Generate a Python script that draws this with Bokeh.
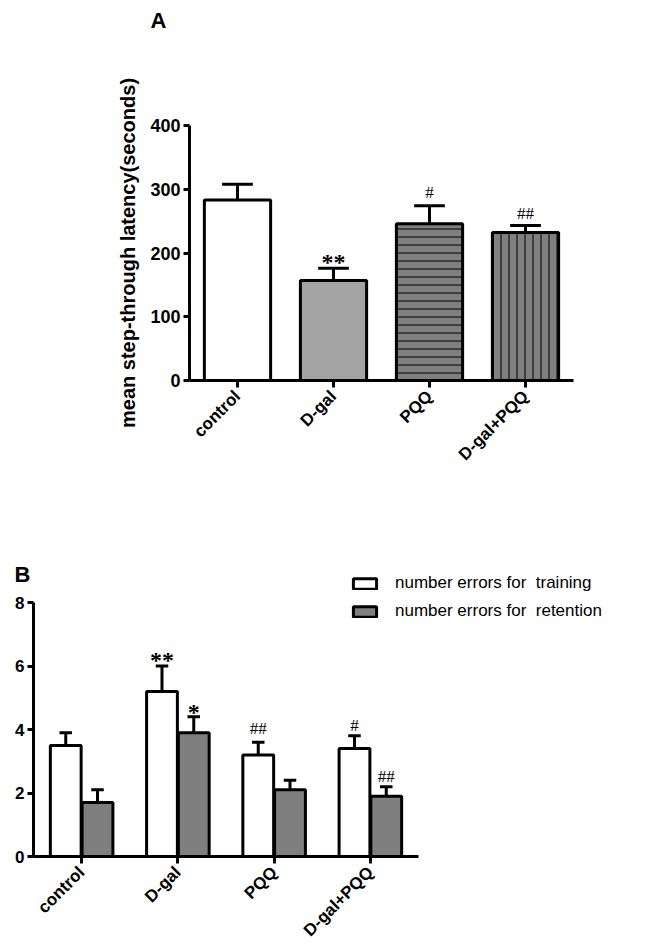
import numpy as np
from bokeh.plotting import figure
from bokeh.models import (ColumnDataSource, FixedTicker, Legend, LegendItem, Range1d, Title)
from bokeh.embed import file_html
from bokeh.resources import INLINE

# ---------------- data ----------------
groups = ["control", "D-gal", "PQQ", "D-gal+PQQ"]

# Panel A: mean step-through latency (seconds)
latency_mean = [283, 157, 246, 232]
latency_sem = [25, 19, 28, 11]
latency_marks = ["", "**", "#", "##"]
latency_ticks = [0, 100, 200, 300, 400]

# Panel B: number of errors
training_mean = [3.5, 5.2, 3.2, 3.4]
training_sem = [0.4, 0.8, 0.4, 0.4]
retention_mean = [1.7, 3.9, 2.1, 1.9]
retention_sem = [0.4, 0.5, 0.3, 0.3]
training_marks = ["", "**", "##", "#"]
retention_marks = ["", "*", "", "##"]
errors_ticks = [0, 2, 4, 6, 8]

legend_labels = ["number errors for  training", "number errors for  retention"]

# ---------------- styles ----------------
FONT = "Liberation Sans"
A_fill = ["white", "#a3a3a3", "#7f7f7f", "#7f7f7f"]
A_hatch = [" ", " ", "-", "|"]
B_train_fill = "white"
B_ret_fill = "#7f7f7f"
# pixel gap between error-bar top and mark baseline (style only)
A_mark_off = [0, -6, -13, -12]
T_mark_off = [0, -6, -14, -10]
R_mark_off = [0, -5, 0, -10]


def mark_font(m):
    if "*" in m:
        return "bold", "24px"
    return "normal", "17px"


def style_axes(p, tick_size):
    p.grid.visible = False
    p.outline_line_color = None
    p.background_fill_color = "white"
    for ax in (p.xaxis[0], p.yaxis[0]):
        ax.axis_line_width = 3
        ax.axis_line_color = "black"
        ax.major_tick_line_width = 3
        ax.major_tick_line_color = "black"
        ax.major_tick_in = 0
        ax.major_tick_out = 6
        ax.minor_tick_line_color = None
        ax.major_label_text_font = FONT
        ax.major_label_text_font_style = "bold"
        ax.major_label_text_color = "black"
        ax.major_label_text_font_size = tick_size
    p.yaxis.major_label_standoff = 3
    p.xaxis.major_label_standoff = 6
    p.xaxis.major_tick_out = 7
    p.xaxis.major_label_orientation = np.pi / 4
    p.xaxis.major_label_text_font_size = "17px"


def style_title(p, offset):
    p.title.text_font = FONT
    p.title.text_font_style = "bold"
    p.title.text_font_size = "22px"
    p.title.text_color = "black"
    p.title.align = "left"
    p.title.offset = offset


def add_marks(p, xs, ups, marks, offs):
    src = ColumnDataSource(dict(x=xs, up=ups, mark=marks, off=offs,
                                fs=[mark_font(m)[0] for m in marks],
                                fz=[mark_font(m)[1] for m in marks]))
    p.text(x="x", y="up", text="mark", y_offset="off", text_align="center",
           text_baseline="alphabetic", text_font_size="fz", text_font_style="fs",
           text_font=FONT, text_color="black", source=src)


def add_errors(p, xs, tops, ups, half_cap):
    src = ColumnDataSource(dict(x=xs, top=tops, up=ups, x0=xs - half_cap, x1=xs + half_cap))
    p.segment(x0="x", y0="top", x1="x", y1="up", line_width=3, line_color="black", source=src)
    p.segment(x0="x0", y0="up", x1="x1", y1="up", line_width=3, line_color="black", source=src)


n = len(groups)
xc = np.arange(n) + 0.5
labels_map = {float(x): g for x, g in zip(xc, groups)}

# ================= Panel A =================
pA = figure(width=630, height=523, x_range=Range1d(0, n), y_range=Range1d(0, latency_ticks[-1]),
            output_backend="svg", toolbar_location=None, title="A",
            min_border_left=189, min_border_right=57, min_border_top=125, min_border_bottom=143)
style_title(pA, -39)
pA.title.standoff = 0
# empty spacer between the panel letter and the plot frame
pA.add_layout(Title(text=" ", text_font_size="10px", standoff=80), "above")

upA = [m + s for m, s in zip(latency_mean, latency_sem)]
add_errors(pA, xc, latency_mean, upA, 0.16)
srcA = ColumnDataSource(dict(x=xc, top=latency_mean, fill=A_fill, hatch=A_hatch))
pA.vbar(x="x", top="top", width=0.69, fill_color="fill", line_color="black", line_width=3,
        hatch_pattern="hatch", hatch_color="black", hatch_scale=8, hatch_weight=1,
        source=srcA)
add_marks(pA, xc, upA, latency_marks, A_mark_off)

style_axes(pA, "18px")
pA.yaxis.ticker = FixedTicker(ticks=latency_ticks)
pA.xaxis.ticker = FixedTicker(ticks=list(xc))
pA.xaxis.major_label_overrides = labels_map
pA.yaxis.axis_label = "mean step-through latency(seconds)"
pA.yaxis.axis_label_text_font = FONT
pA.yaxis.axis_label_text_font_style = "bold"
pA.yaxis.axis_label_text_font_size = "20px"
pA.yaxis.axis_label_text_color = "black"
pA.yaxis.axis_label_standoff = 8

# ================= Panel B =================
# frame extends above/right of the axes so the legend has room; axes are bounded
B_px_per_unit_y = 254 / errors_ticks[-1]
B_px_per_unit_x = 385 / n
B_top_pad = 30 / B_px_per_unit_y
B_right_extent = 613 / B_px_per_unit_x
pB = figure(width=646, height=428, x_range=Range1d(0, B_right_extent),
            y_range=Range1d(0, errors_ticks[-1] + B_top_pad),
            output_backend="svg", toolbar_location=None, title="B",
            min_border_left=33, min_border_right=0, min_border_top=49, min_border_bottom=95)
style_title(pB, -19)
try:
    pB.title.standoff = -28
except Exception:
    pB.title.standoff = 0

dx = 0.165
bw = 0.32
upT = [m + s for m, s in zip(training_mean, training_sem)]
upR = [m + s for m, s in zip(retention_mean, retention_sem)]
add_errors(pB, xc - dx, training_mean, upT, 0.065)
add_errors(pB, xc + dx, retention_mean, upR, 0.065)
rT = pB.vbar(x=xc - dx, top=training_mean, width=bw, fill_color=B_train_fill,
             line_color="black", line_width=3)
rR = pB.vbar(x=xc + dx, top=retention_mean, width=bw, fill_color=B_ret_fill,
             line_color="black", line_width=3)
add_marks(pB, xc - dx, upT, training_marks, T_mark_off)
add_marks(pB, xc + dx, upR, retention_marks, R_mark_off)

style_axes(pB, "17px")
pB.yaxis.ticker = FixedTicker(ticks=errors_ticks)
pB.yaxis.bounds = (0, errors_ticks[-1])
pB.xaxis.ticker = FixedTicker(ticks=list(xc))
pB.xaxis.bounds = (0, n)
pB.xaxis.major_label_overrides = labels_map

legend = Legend(items=[LegendItem(label=legend_labels[0], renderers=[rT]),
                       LegendItem(label=legend_labels[1], renderers=[rR])],
                location=(317, 235), padding=0, margin=0, border_line_color=None,
                background_fill_alpha=0, label_text_font=FONT, label_text_font_size="17px",
                label_text_color="black", glyph_width=29, glyph_height=13,
                label_standoff=16, spacing=8, label_height=20)
pB.add_layout(legend)

open("out.html", "w").write(file_html([pA, pB], INLINE))
